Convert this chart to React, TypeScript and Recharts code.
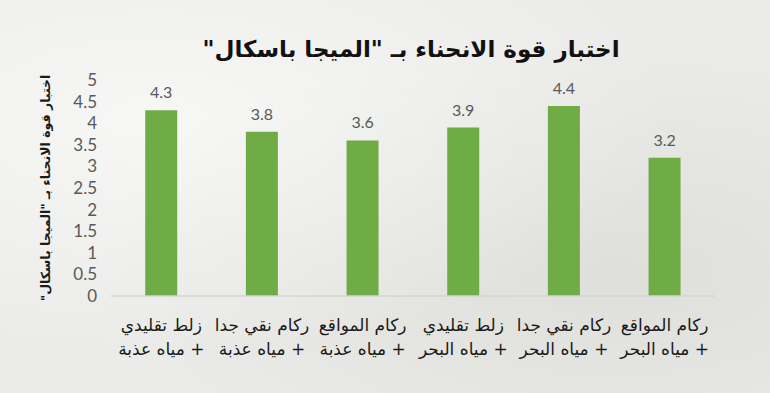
import React from "react";
import { BarChart, Bar, XAxis, YAxis, LabelList, Label } from "recharts";

const categoryLine1 = ["زلط تقليدي", "ركام نقي جدا", "ركام المواقع", "زلط تقليدي", "ركام نقي جدا", "ركام المواقع"];
const categoryLine2 = ["+ مياه عذبة", "+ مياه عذبة", "+ مياه عذبة", "+ مياه البحر", "+ مياه البحر", "+ مياه البحر"];
const values = [4.3, 3.8, 3.6, 3.9, 4.4, 3.2];
const yTicks = [0, 0.5, 1, 1.5, 2, 2.5, 3, 3.5, 4, 4.5, 5];
const title = "اختبار قوة الانحناء بـ \"الميجا باسكال\"";
const yTitle = "اختبار قوة الانحناء بـ \"الميجا باسكال\"";

const data = values.map((v, i) => ({ name: String(i), l1: categoryLine1[i], l2: categoryLine2[i], value: v }));

const AR_FONT = "'DejaVu Sans', sans-serif";
const NUM_FONT = "Lato, 'Open Sans', sans-serif";

const XTick = (props: any) => {
  const { x, y, payload } = props;
  const i = Number(payload.value);
  return (
    <g>
      <text x={x} y={y + 27} textAnchor="middle" fontFamily={AR_FONT} fontSize={17} fill="#1a1a1a" direction="rtl">
        {categoryLine1[i]}
      </text>
      <text x={x} y={y + 51} textAnchor="middle" fontFamily={AR_FONT} fontSize={17} fill="#1a1a1a" direction="rtl">
        {categoryLine2[i]}
      </text>
    </g>
  );
};

const YTick = (props: any) => {
  const { y, payload } = props;
  return (
    <text x={97} y={y + 6} textAnchor="end" fontFamily={NUM_FONT} fontSize={17} fill="#595959">
      {String(payload.value)}
    </text>
  );
};

export default function App() {
  return (
    <div
      style={{
        position: "fixed",
        top: 0,
        left: 0,
        width: 770,
        height: 393,
        overflow: "hidden",
        background:
          "radial-gradient(ellipse at 20% 30%, rgba(255,255,255,0.6), rgba(255,255,255,0) 60%), radial-gradient(ellipse at 80% 70%, rgba(210,210,206,0.5), rgba(210,210,206,0) 60%), #ebebe9",
      }}
    >
      <div
        style={{
          position: "absolute",
          top: 31,
          left: 0,
          width: 822,
          textAlign: "center",
          fontFamily: AR_FONT,
          fontWeight: "bold",
          fontSize: 23,
          color: "#111",
          direction: "rtl",
          lineHeight: "36px",
        }}
      >
        {title}
      </div>
      <div style={{ position: "absolute", top: 0, left: 0 }}>
        <BarChart
          width={770}
          height={393}
          data={data}
          margin={{ top: 80, right: 55, bottom: 0, left: 0 }}
          barCategoryGap="34%"
        >
          <XAxis
            dataKey="name"
            tick={<XTick />}
            tickLine={false}
            axisLine={{ stroke: "#d4d4d2", strokeWidth: 1.5 }}
            height={97}
            interval={0}
          />
          <YAxis
            domain={[0, 5]}
            ticks={yTicks}
            tick={<YTick />}
            tickLine={false}
            axisLine={false}
            width={111}
            interval={0}
          >
            <Label
              content={(p: any) => {
                const vb = p.viewBox;
                const cx = 46;
                const cy = vb.y + vb.height / 2;
                return (
                  <text
                    x={cx}
                    y={cy}
                    transform={`rotate(-90 ${cx} ${cy})`}
                    textAnchor="middle"
                    dominantBaseline="middle"
                    fontFamily={AR_FONT}
                    fontWeight="bold"
                    fontSize={12.5}
                    fill="#1a1a1a"
                    direction="rtl"
                  >
                    {yTitle}
                  </text>
                );
              }}
            />
          </YAxis>
          <Bar dataKey="value" fill="#6fac46" isAnimationActive={false}>
            <LabelList dataKey="value" position="top" offset={12} fontFamily={NUM_FONT} fontSize={16} fill="#595959" />
          </Bar>
        </BarChart>
      </div>
    </div>
  );
}
